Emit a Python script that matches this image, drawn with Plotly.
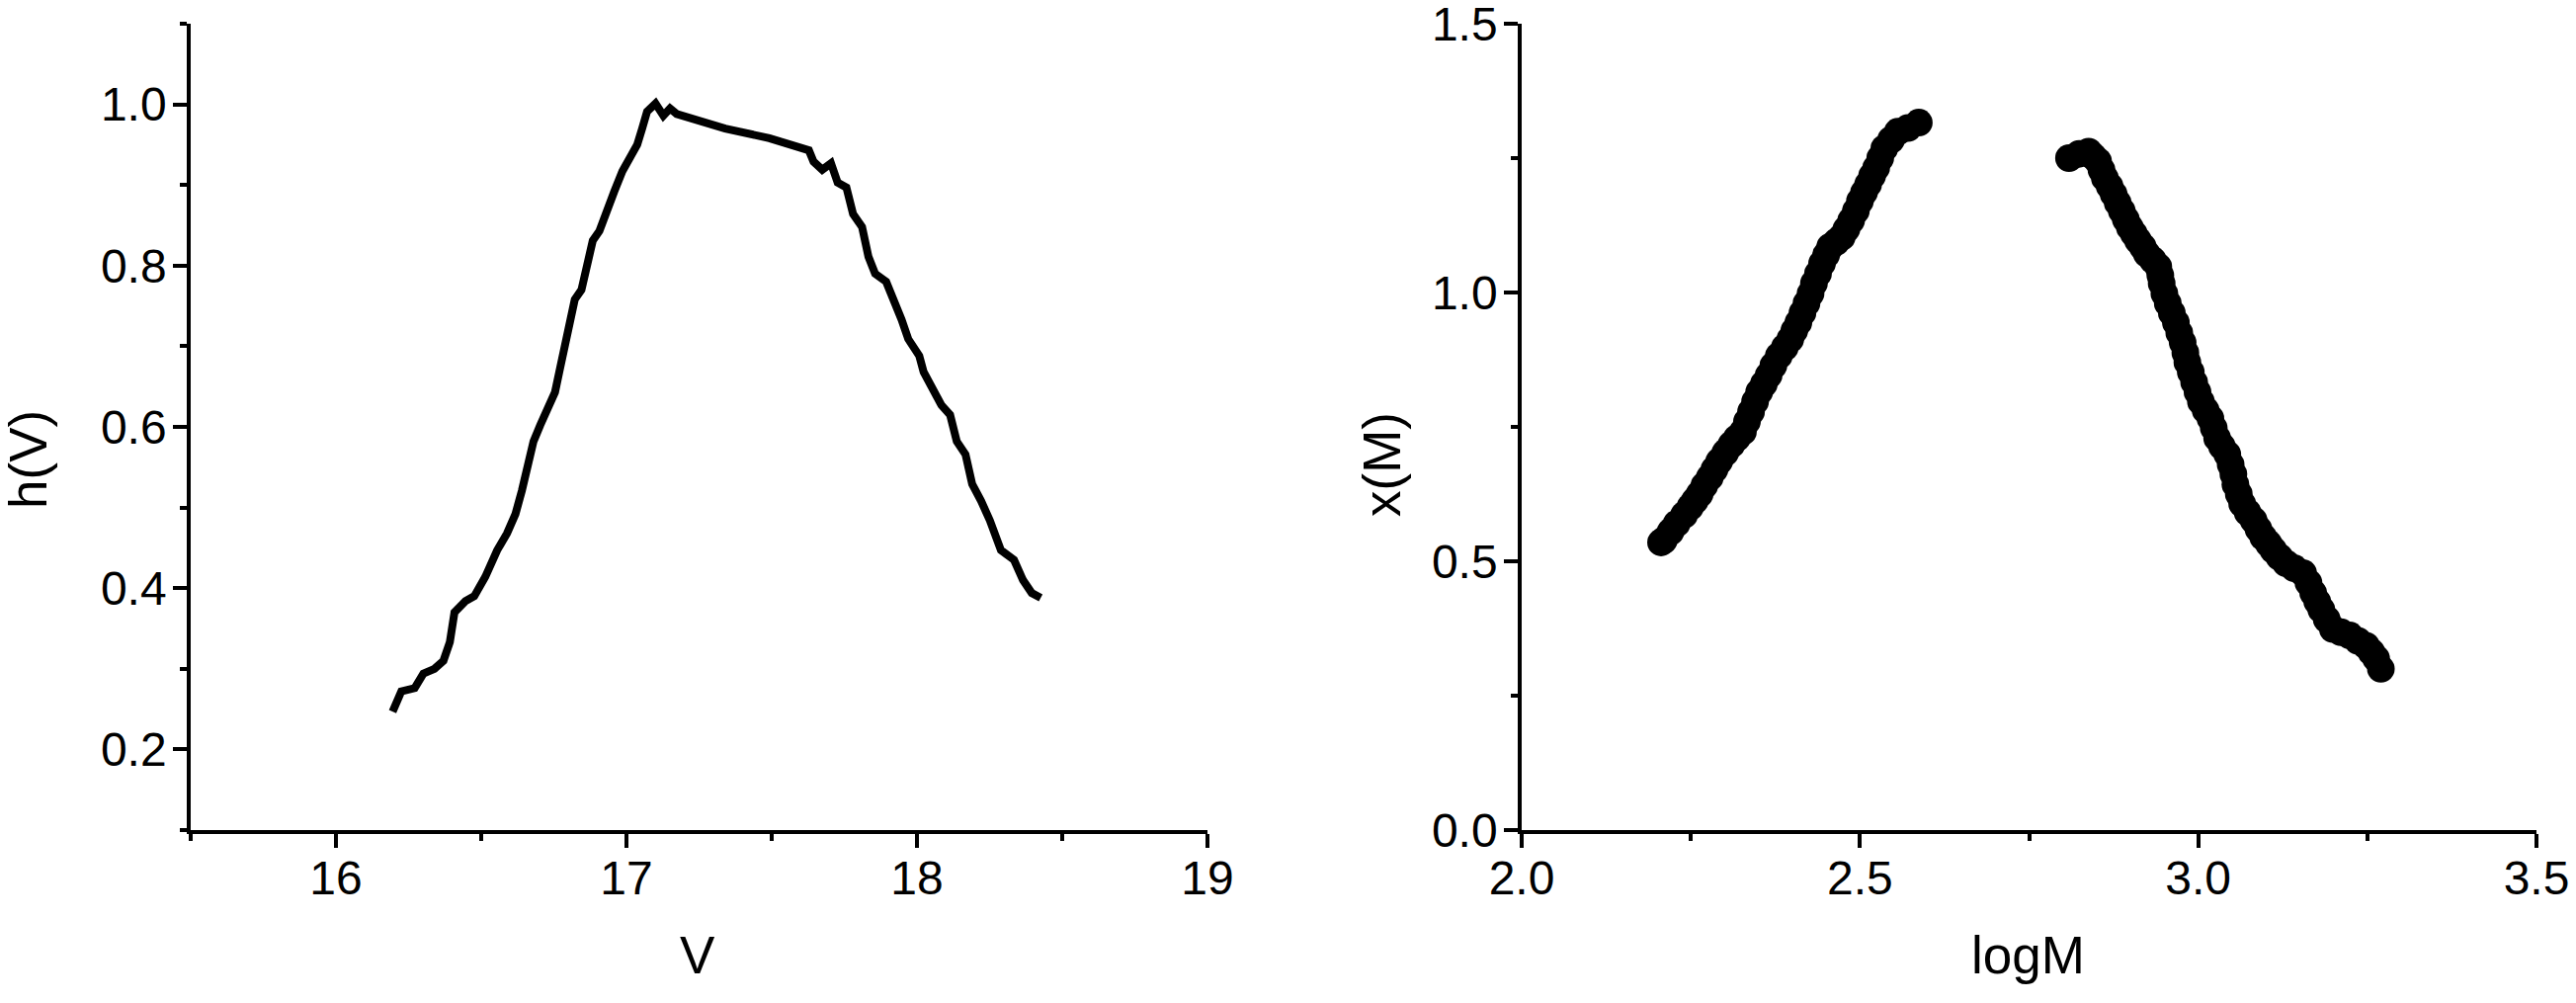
import plotly.graph_objects as go

# ---- Left panel data: h(V) vs V ----
V = [16.195, 16.225, 16.271, 16.301, 16.339, 16.370, 16.392, 16.408, 16.446, 16.476,
     16.514, 16.537, 16.555, 16.589, 16.618, 16.640, 16.663, 16.680, 16.703, 16.726,
     16.754, 16.771, 16.788, 16.805, 16.822, 16.845, 16.862, 16.884, 16.907, 16.930,
     16.958, 16.986, 17.009, 17.037, 17.054, 17.071, 17.100, 17.127, 17.150, 17.173,
     17.340, 17.492, 17.628, 17.644, 17.674, 17.704, 17.727, 17.757, 17.780, 17.811,
     17.833, 17.856, 17.894, 17.917, 17.947, 17.970, 18.008, 18.023, 18.054, 18.084,
     18.114, 18.137, 18.167, 18.190, 18.221, 18.251, 18.289, 18.334, 18.365, 18.395,
     18.426]
hV = [0.247, 0.272, 0.276, 0.294, 0.300, 0.310, 0.333, 0.370, 0.384, 0.390,
      0.414, 0.435, 0.447, 0.468, 0.492, 0.521, 0.562, 0.582, 0.602, 0.623,
      0.643, 0.672, 0.705, 0.733, 0.758, 0.770, 0.799, 0.831, 0.843, 0.868,
      0.892, 0.917, 0.933, 0.950, 0.970, 0.991, 1.001, 0.986, 0.995, 0.988,
      0.970, 0.958, 0.943, 0.929, 0.919, 0.927, 0.903, 0.897, 0.864, 0.848,
      0.811, 0.790, 0.780, 0.762, 0.733, 0.709, 0.688, 0.668, 0.647, 0.627,
      0.615, 0.582, 0.566, 0.529, 0.508, 0.484, 0.447, 0.435, 0.410, 0.394,
      0.388]

# ---- Right panel data: x(M) vs logM (two branches) ----
logM_low = [2.206, 2.210, 2.220, 2.229, 2.240, 2.249, 2.256, 2.263, 2.270, 2.278,
            2.285, 2.292, 2.301, 2.310, 2.318, 2.327, 2.333, 2.339, 2.345, 2.351,
            2.358, 2.365, 2.372, 2.380, 2.389, 2.397, 2.403, 2.409, 2.415, 2.421,
            2.427, 2.432, 2.438, 2.444, 2.450, 2.456, 2.465, 2.473, 2.480, 2.487,
            2.494, 2.500, 2.506, 2.512, 2.518, 2.524, 2.530, 2.536, 2.546, 2.556,
            2.571, 2.587]
xM_low = [0.535, 0.539, 0.555, 0.570, 0.586, 0.601, 0.613, 0.625, 0.641, 0.656,
          0.671, 0.686, 0.702, 0.717, 0.729, 0.741, 0.760, 0.778, 0.797, 0.815,
          0.830, 0.846, 0.864, 0.882, 0.898, 0.913, 0.929, 0.944, 0.962, 0.980,
          0.998, 1.017, 1.035, 1.054, 1.070, 1.085, 1.094, 1.103, 1.118, 1.134,
          1.152, 1.170, 1.186, 1.201, 1.217, 1.232, 1.250, 1.268, 1.284, 1.299,
          1.306, 1.316]
logM_high = [2.809, 2.824, 2.838, 2.845, 2.852, 2.857, 2.862, 2.869, 2.875, 2.881,
             2.887, 2.893, 2.899, 2.905, 2.911, 2.918, 2.924, 2.933, 2.941, 2.944,
             2.946, 2.950, 2.955, 2.961, 2.967, 2.972, 2.977, 2.981, 2.984, 2.989,
             2.994, 2.999, 3.004, 3.011, 3.018, 3.023, 3.028, 3.035, 3.043, 3.048,
             3.052, 3.055, 3.060, 3.065, 3.073, 3.082, 3.089, 3.096, 3.104, 3.111,
             3.120, 3.130, 3.142, 3.155, 3.163, 3.170, 3.176, 3.182, 3.190, 3.199,
             3.211, 3.224, 3.236, 3.248, 3.256, 3.263, 3.270]
xM_high = [1.250, 1.258, 1.262, 1.253, 1.244, 1.228, 1.213, 1.198, 1.183, 1.167,
           1.152, 1.136, 1.121, 1.109, 1.097, 1.085, 1.072, 1.060, 1.048, 1.032,
           1.017, 0.998, 0.980, 0.962, 0.944, 0.925, 0.907, 0.888, 0.870, 0.852,
           0.833, 0.815, 0.797, 0.781, 0.766, 0.748, 0.729, 0.714, 0.699, 0.680,
           0.662, 0.643, 0.625, 0.607, 0.591, 0.576, 0.560, 0.545, 0.533, 0.521,
           0.508, 0.496, 0.487, 0.478, 0.460, 0.441, 0.425, 0.410, 0.392, 0.374,
           0.368, 0.362, 0.352, 0.343, 0.331, 0.319, 0.300]

# ---- Tick values / labels ----
left_x_ticks = [16, 17, 18, 19]
left_x_minor = [15.5, 16.5, 17.5, 18.5]
left_y_ticks = [0.2, 0.4, 0.6, 0.8, 1.0]
left_y_minor = [0.1, 0.3, 0.5, 0.7, 0.9, 1.1]
right_x_ticks = [2.0, 2.5, 3.0, 3.5]
right_x_minor = [2.25, 2.75, 3.25]
right_y_ticks = [0.0, 0.5, 1.0, 1.5]
right_y_minor = [0.25, 0.75, 1.25]

W, H = 2607, 1015
FONT = "Liberation Sans, Arial, sans-serif"

fig = go.Figure()
fig.add_trace(go.Scatter(x=V, y=hV, mode="lines",
                         line=dict(color="black", width=8),
                         xaxis="x", yaxis="y", showlegend=False))
fig.add_trace(go.Scatter(x=logM_low, y=xM_low, mode="markers",
                         marker=dict(color="black", size=28, line=dict(width=0)),
                         xaxis="x2", yaxis="y2", showlegend=False))
fig.add_trace(go.Scatter(x=logM_high, y=xM_high, mode="markers",
                         marker=dict(color="black", size=28, line=dict(width=0)),
                         xaxis="x2", yaxis="y2", showlegend=False))

ydom = [1 - 840 / H, 1 - 24 / H]


def ax(rng, ticks, minor, dom, anchor, labels, standoff):
    return dict(range=rng, domain=dom, anchor=anchor, automargin=False,
                tickmode="array", tickvals=ticks, ticktext=labels,
                ticklabeloverflow="allow", ticklabelstandoff=standoff,
                showline=True, linecolor="black", linewidth=3.5,
                ticks="outside", ticklen=14, tickwidth=3.5, tickcolor="black",
                minor=dict(tickmode="array", tickvals=minor, ticks="outside", ticklen=7,
                           tickwidth=3.5, tickcolor="black", showgrid=False),
                showgrid=False, zeroline=False, mirror=False,
                tickfont=dict(family=FONT, size=48, color="black"))


fig.update_layout(
    template="none",
    width=W, height=H, margin=dict(l=0, r=0, t=0, b=0, autoexpand=False),
    paper_bgcolor="white", plot_bgcolor="white",
    xaxis=ax([15.5, 19], left_x_ticks, left_x_minor, [193 / W, 1222 / W], "y",
             [str(v) for v in left_x_ticks], -10),
    yaxis=ax([0.1, 1.1], left_y_ticks, left_y_minor, ydom, "x",
             [f"{v:.1f}" for v in left_y_ticks], -3),
    xaxis2=ax([2.0, 3.5], right_x_ticks, right_x_minor, [1540 / W, 2567 / W], "y2",
              [f"{v:.1f}" for v in right_x_ticks], -10),
    yaxis2=ax([0, 1.5], right_y_ticks, right_y_minor, ydom, "x2",
              [f"{v:.1f}" for v in right_y_ticks], -3),
)

tfont = dict(family=FONT, size=53, color="black")
fig.add_annotation(text="V", x=706 / W, y=1 - 966 / H, xref="paper", yref="paper",
                   showarrow=False, font=tfont, xanchor="center", yanchor="middle")
fig.add_annotation(text="logM", x=2052 / W, y=1 - 966 / H, xref="paper", yref="paper",
                   showarrow=False, font=tfont, xanchor="center", yanchor="middle")
fig.add_annotation(text="h(V)", x=28 / W, y=1 - 465 / H, xref="paper", yref="paper",
                   showarrow=False, font=tfont, textangle=-90, xanchor="center", yanchor="middle")
fig.add_annotation(text="x(M)", x=1398 / W, y=1 - 470 / H, xref="paper", yref="paper",
                   showarrow=False, font=tfont, textangle=-90, xanchor="center", yanchor="middle")

fig.write_html("out.html", config={"displayModeBar": False},
               post_script="document.body.style.margin='0px';document.body.style.overflow='hidden';")
